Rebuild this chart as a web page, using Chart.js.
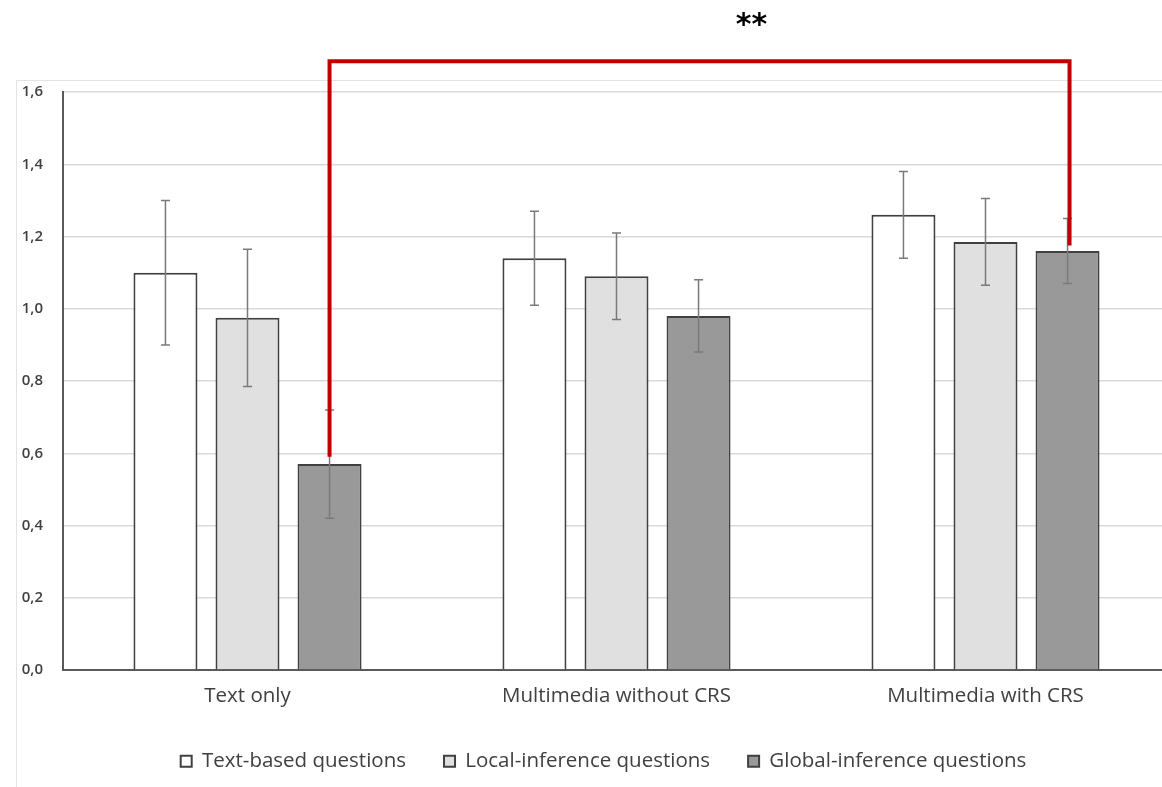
<!DOCTYPE html>
<html>
<head>
<meta charset="utf-8">
<script src="https://cdn.jsdelivr.net/npm/chart.js@4.4.1/dist/chart.umd.min.js"></script>
<style>
  html, body { margin: 0; padding: 0; overflow: hidden; background: #fff; width: 1162px; height: 787px; }
  .wrap { position: relative; width: 1162px; height: 787px; }
  .frame { position: absolute; left: 16px; top: 80px; width: 1300px; height: 900px; border: 1px solid #e3e3e3; }
  canvas { position: absolute; left: 0; top: 0; }
</style>
</head>
<body>
<div class="wrap">
  <div class="frame"></div>
  <canvas id="chart" width="1191" height="787"></canvas>
</div>
<script>
// categories and series (means with error bar half-widths)
const categories = ['Text only', 'Multimedia without CRS', 'Multimedia with CRS'];
const seriesNames = ['Text-based questions', 'Local-inference questions', 'Global-inference questions'];
const textBased = [1.10, 1.14, 1.26];
const textBasedErr = [0.20, 0.13, 0.12];
const localInf = [0.975, 1.09, 1.185];
const localInfErr = [0.19, 0.12, 0.12];
const globalInf = [0.57, 0.98, 1.16];
const globalInfErr = [0.15, 0.10, 0.09];
const yTickLabels = ['0,0', '0,2', '0,4', '0,6', '0,8', '1,0', '1,2', '1,4', '1,6'];

// significance bracket: Text only vs Multimedia with CRS (global-inference)
const sigLabel = '**';
const bracketTop = 1.685;
const bracketLeftEnd = 0.59;
const bracketRightEnd = 1.175;

const errors = [textBasedErr, localInfErr, globalInfErr];

const errorBars = {
  id: 'errorBars',
  afterDatasetsDraw(chart) {
    const { ctx, scales: { y } } = chart;
    ctx.save();
    ctx.strokeStyle = '#7a7a7a';
    ctx.lineWidth = 1.5;
    chart.data.datasets.forEach((ds, i) => {
      const meta = chart.getDatasetMeta(i);
      meta.data.forEach((bar, j) => {
        const v = ds.data[j], e = errors[i][j];
        const yt = y.getPixelForValue(v + e), yb = y.getPixelForValue(v - e);
        ctx.beginPath();
        ctx.moveTo(bar.x, yt); ctx.lineTo(bar.x, yb);
        ctx.moveTo(bar.x - 4.5, yt); ctx.lineTo(bar.x + 4.5, yt);
        ctx.moveTo(bar.x - 4.5, yb); ctx.lineTo(bar.x + 4.5, yb);
        ctx.stroke();
      });
    });
    ctx.restore();
  }
};

const sigBracket = {
  id: 'sigBracket',
  afterDraw(chart) {
    const { ctx, scales: { y } } = chart;
    const meta = chart.getDatasetMeta(2);
    const xl = meta.data[0].x, xr = meta.data[2].x + 2;
    const yt = y.getPixelForValue(bracketTop);
    ctx.save();
    ctx.strokeStyle = '#c00000';
    ctx.lineWidth = 4;
    ctx.beginPath();
    ctx.moveTo(xl, y.getPixelForValue(bracketLeftEnd));
    ctx.lineTo(xl, yt);
    ctx.lineTo(xr, yt);
    ctx.lineTo(xr, y.getPixelForValue(bracketRightEnd));
    ctx.stroke();
    ctx.fillStyle = '#000';
    ctx.font = 'bold 30px "DejaVu Sans"';
    ctx.textAlign = 'center';
    ctx.textBaseline = 'middle';
    ctx.fillText(sigLabel, (xl + xr) / 2 + 52, 26);
    ctx.restore();
  }
};

new Chart(document.getElementById('chart'), {
  type: 'bar',
  data: {
    labels: categories,
    datasets: [
      { label: seriesNames[0], data: textBased, backgroundColor: '#ffffff', borderColor: '#404040', borderWidth: 2 },
      { label: seriesNames[1], data: localInf, backgroundColor: '#e0e0e0', borderColor: '#404040', borderWidth: 2 },
      { label: seriesNames[2], data: globalInf, backgroundColor: '#999999', borderColor: '#404040', borderWidth: 2 },
    ],
  },
  options: {
    responsive: false,
    animation: false,
    categoryPercentage: 0.667,
    barPercentage: 0.78,
    layout: { padding: { top: 92, left: 16, right: 0, bottom: 6 } },
    plugins: {
      tooltip: { enabled: false },
      legend: {
        position: 'bottom',
        maxHeight: 68,
        labels: {
          boxWidth: 11, boxHeight: 11, padding: 38,
          color: '#404040',
          font: { family: '"Open Sans"', size: 20.5 },
        },
      },
    },
    scales: {
      x: {
        afterFit: s => { s.height = 43; },
        grid: { display: false, drawTicks: false },
        border: { color: '#595959', width: 2 },
        ticks: { color: '#404040', padding: 14, font: { family: '"Open Sans"', size: 20.5 } },
      },
      y: {
        min: 0, max: 1.6,
        afterFit: s => { s.width = 47; },
        grid: { color: '#d9d9d9', lineWidth: 1.5, drawTicks: false },
        border: { color: '#595959', width: 2 },
        ticks: {
          stepSize: 0.2, padding: 20, color: '#404040',
          font: { family: '"Open Sans"', size: 15, weight: '600' },
          callback: (v, i) => yTickLabels[i],
        },
      },
      // empty strip on the right so the legend centres like the original
      pad: {
        position: 'right',
        afterFit: s => { s.width = 21; },
        grid: { display: false, drawTicks: false },
        border: { display: false },
        ticks: { display: false },
      },
    },
  },
  plugins: [errorBars, sigBracket],
});
</script>
</body>
</html>
